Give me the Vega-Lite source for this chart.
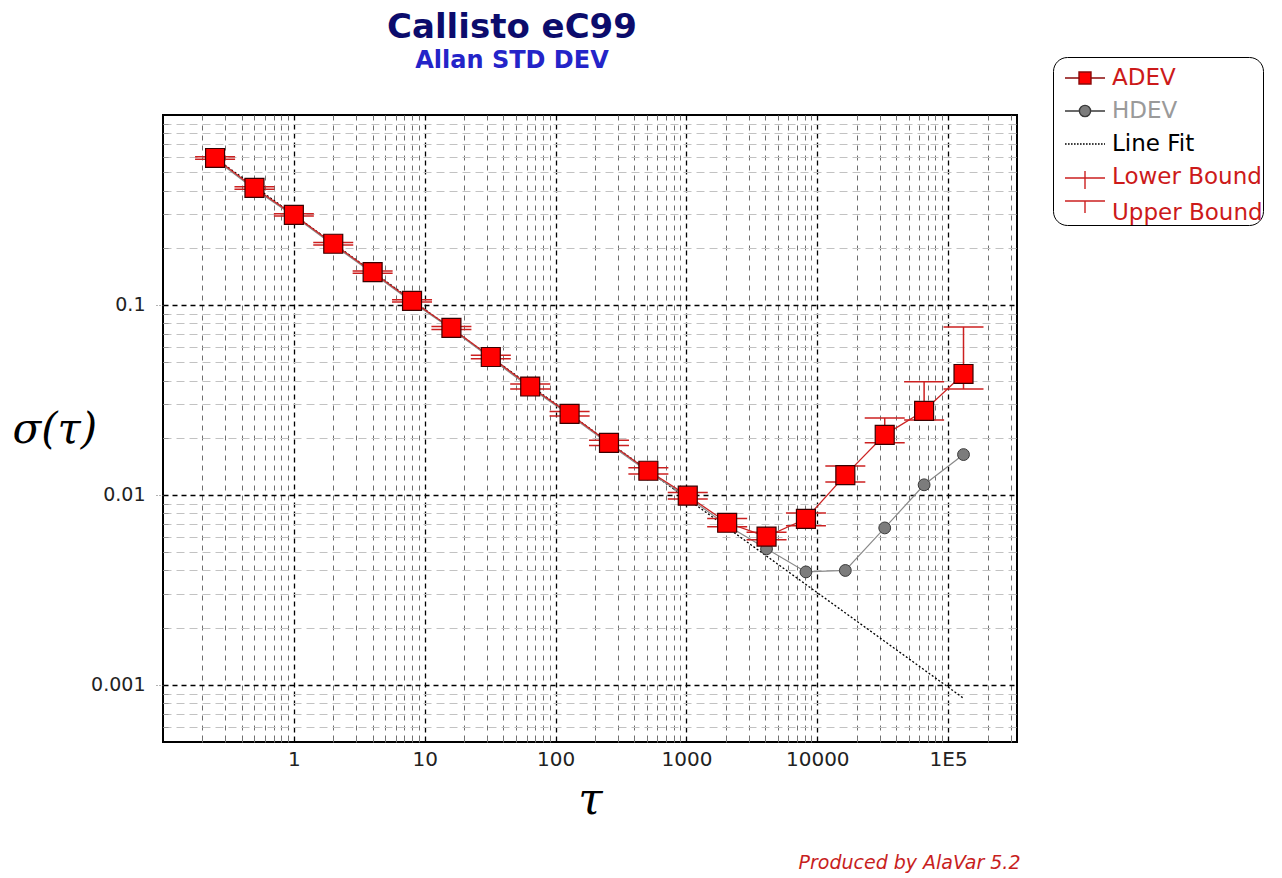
{
  "$schema": "https://vega.github.io/schema/vega-lite/v6.json",
  "width": 854,
  "height": 627,
  "autosize": {"type": "none"},
  "padding": {"left": 163, "top": 115, "right": 265, "bottom": 136},
  "background": "white",
  "title": {
    "text": "Callisto eC99",
    "subtitle": "Allan STD DEV",
    "font": "DejaVu Sans",
    "fontSize": 34,
    "fontWeight": "bold",
    "color": "#0c0c6c",
    "subtitleFont": "DejaVu Sans",
    "subtitleFontSize": 24,
    "subtitleFontWeight": "bold",
    "subtitleColor": "#2424c8",
    "anchor": "middle",
    "dx": -78,
    "offset": -16,
    "subtitlePadding": 4
  },
  "config": {
    "view": {"stroke": "#000", "strokeWidth": 2}
  },
  "datasets": {
    "adev": [
      {"tau": 0.25, "adev": 0.594, "lo": 0.585, "hi": 0.603},
      {"tau": 0.5, "adev": 0.413, "lo": 0.407, "hi": 0.419},
      {"tau": 1, "adev": 0.298, "lo": 0.294, "hi": 0.302},
      {"tau": 2, "adev": 0.21, "lo": 0.207, "hi": 0.213},
      {"tau": 4, "adev": 0.149, "lo": 0.147, "hi": 0.151},
      {"tau": 8, "adev": 0.105, "lo": 0.1035, "hi": 0.1065},
      {"tau": 16, "adev": 0.0757, "lo": 0.0743, "hi": 0.0771},
      {"tau": 32, "adev": 0.0532, "lo": 0.0521, "hi": 0.0543},
      {"tau": 64, "adev": 0.0372, "lo": 0.0361, "hi": 0.0383},
      {"tau": 128, "adev": 0.0267, "lo": 0.026, "hi": 0.0275},
      {"tau": 256, "adev": 0.0188, "lo": 0.0182, "hi": 0.0194},
      {"tau": 512, "adev": 0.0134, "lo": 0.0129, "hi": 0.0139},
      {"tau": 1024, "adev": 0.0099, "lo": 0.0095, "hi": 0.0103},
      {"tau": 2048, "adev": 0.00713, "lo": 0.0068, "hi": 0.0075},
      {"tau": 4096, "adev": 0.00603, "lo": 0.0058, "hi": 0.00635},
      {"tau": 8192, "adev": 0.00748, "lo": 0.00687, "hi": 0.00804},
      {"tau": 16384, "adev": 0.0127, "lo": 0.0117, "hi": 0.0142},
      {"tau": 32768, "adev": 0.0207, "lo": 0.0188, "hi": 0.0254},
      {"tau": 65536, "adev": 0.0277, "lo": 0.0248, "hi": 0.0394},
      {"tau": 131072, "adev": 0.0433, "lo": 0.0361, "hi": 0.0766}
    ],
    "hdev": [
      {"tau": 0.25, "hdev": 0.585},
      {"tau": 0.5, "hdev": 0.407},
      {"tau": 1, "hdev": 0.294},
      {"tau": 2, "hdev": 0.207},
      {"tau": 4, "hdev": 0.147},
      {"tau": 8, "hdev": 0.1035},
      {"tau": 16, "hdev": 0.0746},
      {"tau": 32, "hdev": 0.0524},
      {"tau": 64, "hdev": 0.0366},
      {"tau": 128, "hdev": 0.0263},
      {"tau": 256, "hdev": 0.0185},
      {"tau": 512, "hdev": 0.0132},
      {"tau": 1024, "hdev": 0.00975},
      {"tau": 2048, "hdev": 0.0069},
      {"tau": 4096, "hdev": 0.0052},
      {"tau": 8192, "hdev": 0.00393},
      {"tau": 16384, "hdev": 0.004},
      {"tau": 32768, "hdev": 0.0067},
      {"tau": 65536, "hdev": 0.0113},
      {"tau": 131072, "hdev": 0.0163}
    ],
    "fit": [
      {"tau": 0.25, "sigma": 0.594},
      {"tau": 131072, "sigma": 0.00085}
    ]
  },
  "layer": [
    {
      "data": {"name": "fit"},
      "mark": {"type": "line", "color": "#000", "strokeDash": [2, 2], "strokeWidth": 1.3},
      "encoding": {
        "x": {
          "field": "tau", "type": "quantitative",
          "scale": {"type": "log", "domain": [0.1, 336000], "nice": false},
          "axis": {
            "orient": "bottom",
            "values": [0.2,0.3,0.4,0.5,0.6,0.7,0.8,0.9,2,3,4,5,6,7,8,9,20,30,40,50,60,70,80,90,200,300,400,500,600,700,800,900,2000,3000,4000,5000,6000,7000,8000,9000,20000,30000,40000,50000,60000,70000,80000,90000,200000,300000],
            "grid": true, "gridColor": "#6e6e6e", "gridDash": [5, 5], "gridWidth": 1,
            "labels": false, "ticks": true, "tickSize": -5, "tickColor": "#777", "domain": false,
            "title": "Produced by AlaVar 5.2",
            "titleFont": "DejaVu Sans", "titleFontStyle": "italic", "titleFontWeight": "normal",
            "titleFontSize": 19, "titleColor": "#c81e1e",
            "titleAlign": "right", "titleAnchor": "end", "titleX": 857, "titleY": 126, "titleBaseline": "alphabetic"
          }
        },
        "y": {
          "field": "sigma", "type": "quantitative",
          "scale": {"type": "log", "domain": [0.0005, 1], "nice": false},
          "axis": {
            "orient": "left",
            "values": [0.0006,0.0007,0.0008,0.0009,0.002,0.003,0.004,0.005,0.006,0.007,0.008,0.009,0.02,0.03,0.04,0.05,0.06,0.07,0.08,0.09,0.2,0.3,0.4,0.5,0.6,0.7,0.8,0.9],
            "grid": true, "gridColor": "#c2c2c2", "gridDash": [8, 5], "gridWidth": 1,
            "labels": false, "ticks": true, "tickSize": -5, "tickColor": "#999", "domain": false,
            "title": null
          }
        }
      }
    },
    {
      "data": {"name": "hdev"},
      "mark": {"type": "line", "color": "#8a8a8a", "strokeWidth": 1.2},
      "encoding": {
        "x": {
          "field": "tau", "type": "quantitative",
          "axis": {
            "orient": "bottom",
            "values": [1, 10, 100, 1000, 10000, 100000],
            "grid": true, "gridColor": "#000", "gridDash": [5, 4], "gridWidth": 1.3,
            "labelExpr": "datum.value >= 100000 ? '1E5' : datum.value >= 10000 ? '10000' : datum.value >= 1000 ? '1000' : datum.value >= 100 ? '100' : datum.value >= 10 ? '10' : '1'",
            "labelFont": "DejaVu Sans", "labelFontSize": 20, "labelColor": "#222",
            "ticks": false, "labelPadding": 7, "domain": false,
            "title": "τ", "titleFont": "DejaVu Serif", "titleFontStyle": "italic", "titleFontWeight": "normal",
            "titleFontSize": 44, "titleColor": "#000", "titleY": 71, "titleBaseline": "alphabetic"
          }
        },
        "y": {
          "field": "hdev", "type": "quantitative",
          "axis": {
            "orient": "left",
            "values": [0.001, 0.01, 0.1],
            "grid": true, "gridColor": "#000", "gridDash": [5, 4], "gridWidth": 1.3,
            "labelExpr": "datum.value >= 0.1 ? '0.1' : datum.value >= 0.01 ? '0.01' : '0.001'",
            "labelFont": "DejaVu Sans", "labelFontSize": 19, "labelColor": "#222",
            "ticks": true, "tickSize": 8, "tickDash": [1, 2], "tickColor": "#666",
            "labelPadding": 10, "domain": false,
            "title": "σ(τ)", "titleFont": "DejaVu Serif", "titleFontStyle": "italic", "titleFontWeight": "normal",
            "titleFontSize": 42, "titleColor": "#000", "titleAngle": 0, "titleAlign": "left",
            "titleX": -151, "titleY": 327, "titleBaseline": "alphabetic"
          }
        }
      }
    },
    {
      "data": {"name": "hdev"},
      "mark": {"type": "point", "shape": "circle", "filled": true, "size": 140, "fill": "#7c7c7c", "stroke": "#3a3a3a", "strokeWidth": 1, "opacity": 1},
      "encoding": {
        "x": {"field": "tau", "type": "quantitative", "axis": null},
        "y": {"field": "hdev", "type": "quantitative", "axis": null}
      }
    },
    {
      "data": {"name": "adev"},
      "mark": {"type": "line", "color": "#cc2424", "strokeWidth": 1.3},
      "encoding": {
        "x": {"field": "tau", "type": "quantitative", "axis": null},
        "y": {"field": "adev", "type": "quantitative", "axis": null}
      }
    },
    {
      "data": {"name": "adev"},
      "mark": {"type": "rule", "color": "#cc2020", "strokeWidth": 1.5},
      "encoding": {
        "x": {"field": "tau", "type": "quantitative", "axis": null},
        "y": {"field": "lo", "type": "quantitative", "axis": null},
        "y2": {"field": "hi"}
      }
    },
    {
      "data": {"name": "adev"},
      "mark": {"type": "tick", "orient": "horizontal", "size": 40, "thickness": 1.5, "color": "#cc2020", "opacity": 1},
      "encoding": {
        "x": {"field": "tau", "type": "quantitative", "axis": null},
        "y": {"field": "lo", "type": "quantitative", "axis": null}
      }
    },
    {
      "data": {"name": "adev"},
      "mark": {"type": "tick", "orient": "horizontal", "size": 40, "thickness": 1.5, "color": "#cc2020", "opacity": 1},
      "encoding": {
        "x": {"field": "tau", "type": "quantitative", "axis": null},
        "y": {"field": "hi", "type": "quantitative", "axis": null}
      }
    },
    {
      "data": {"name": "adev"},
      "mark": {"type": "point", "shape": "square", "filled": true, "size": 360, "fill": "#ff0000", "stroke": "#3a0000", "strokeWidth": 1.2, "opacity": 1},
      "encoding": {
        "x": {"field": "tau", "type": "quantitative", "axis": null},
        "y": {"field": "adev", "type": "quantitative", "axis": null}
      }
    },
    {
      "data": {"name": "fit"},
      "mark": {"type": "point", "filled": true, "size": 0},
      "encoding": {
        "x": {"field": "tau", "type": "quantitative", "axis": null},
        "y": {"field": "sigma", "type": "quantitative", "axis": null},
        "fill": {
          "datum": "ADEV", "type": "nominal",
          "scale": {"domain": ["ADEV", "HDEV", "Line Fit", "Lower Bound", "Upper Bound"], "range": ["#ff0000", "#7c7c7c", "transparent", "transparent", "transparent"]},
          "legend": {
            "orient": "none", "legendX": 890, "legendY": -58, "title": null, "padding": 0,
            "strokeColor": "#000", "fillColor": "#fff", "cornerRadius": 14,
            "symbolSize": 1600, "symbolStrokeWidth": 1.4, "symbolOpacity": 1, "symbolOffset": 11,
            "labelFont": "DejaVu Sans", "labelFontSize": 23, "labelOffset": 6, "labelLimit": 300, "rowPadding": 0,
            "labelColor": {"expr": "datum.value === 'HDEV' ? '#9a9a9a' : datum.value === 'Line Fit' ? '#000000' : '#cc1a1a'"}
          }
        },
        "stroke": {
          "datum": "ADEV", "type": "nominal",
          "scale": {"domain": ["ADEV", "HDEV", "Line Fit", "Lower Bound", "Upper Bound"], "range": ["#8a0a0a", "#3a3a3a", "#000000", "#cc2020", "#cc2020"]},
          "legend": {
            "orient": "none", "legendX": 890, "legendY": -58, "title": null, "padding": 0,
            "strokeColor": "#000", "fillColor": "#fff", "cornerRadius": 14,
            "symbolSize": 1600, "symbolStrokeWidth": 1.4, "symbolOpacity": 1, "symbolOffset": 11,
            "labelFont": "DejaVu Sans", "labelFontSize": 23, "labelOffset": 6, "labelLimit": 300, "rowPadding": 0,
            "labelColor": {"expr": "datum.value === 'HDEV' ? '#9a9a9a' : datum.value === 'Line Fit' ? '#000000' : '#cc1a1a'"}
          }
        },
        "shape": {
          "datum": "ADEV", "type": "nominal",
          "scale": {"domain": ["ADEV", "HDEV", "Line Fit", "Lower Bound", "Upper Bound"], "range": [
            "M-1,0H-0.3M0.3,0H1M-0.3,-0.3H0.3V0.3H-0.3Z",
            "M-1,0H-0.28M0.28,0H1M-0.28,0A0.28,0.28 0 1,1 0.28,0A0.28,0.28 0 1,1 -0.28,0Z",
            "M-1,0h0.08M-0.85,0h0.08M-0.7,0h0.08M-0.55,0h0.08M-0.4,0h0.08M-0.25,0h0.08M-0.1,0h0.08M0.05,0h0.08M0.2,0h0.08M0.35,0h0.08M0.5,0h0.08M0.65,0h0.08M0.8,0h0.08M0.95,0h0.05",
            "M-1,0.05H1M0,-0.3V0.6",
            "M-1,-0.6H1M0,-0.6V0"
          ]},
          "legend": {
            "orient": "none", "legendX": 890, "legendY": -58, "title": null, "padding": 0,
            "strokeColor": "#000", "fillColor": "#fff", "cornerRadius": 14,
            "symbolSize": 1600, "symbolStrokeWidth": 1.4, "symbolOpacity": 1, "symbolOffset": 11,
            "labelFont": "DejaVu Sans", "labelFontSize": 23, "labelOffset": 6, "labelLimit": 300, "rowPadding": 0,
            "labelColor": {"expr": "datum.value === 'HDEV' ? '#9a9a9a' : datum.value === 'Line Fit' ? '#000000' : '#cc1a1a'"}
          }
        }
      }
    }
  ],
  "resolve": {"axis": {"x": "independent", "y": "independent"}}
}
